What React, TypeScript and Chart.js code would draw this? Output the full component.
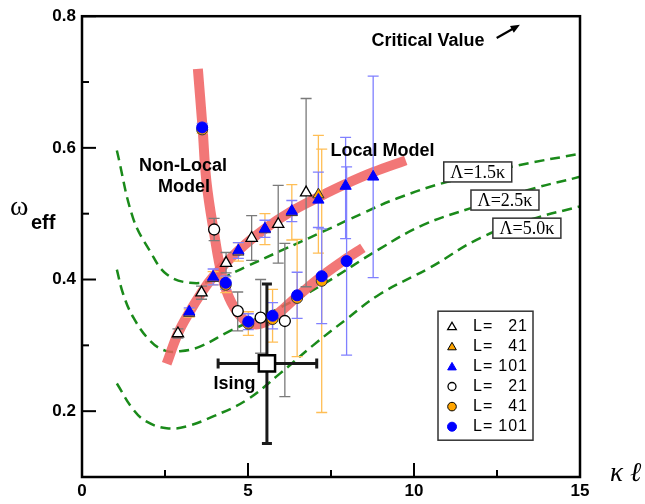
import { useEffect, useRef } from 'react';
import { Chart, registerables } from 'chart.js';

Chart.register(...registerables);

const SANS = '"Liberation Sans", Arial, Helvetica, sans-serif';
const SERIF = '"Liberation Serif", "DejaVu Serif", "Times New Roman", serif';

// ---------- Data: upper branch (triangles) ----------
const triX21 = [2.89, 3.6, 4.34, 5.11, 5.91, 6.75];
const triY21 = [0.318, 0.38, 0.425, 0.463, 0.484, 0.532];
const triLo21 = [0.311, 0.37, 0.41, 0.429, 0.425, 0.389];
const triHi21 = [0.325, 0.39, 0.441, 0.497, 0.543, 0.675];

const triX41 = [3.23, 3.95, 4.71, 5.51, 6.32, 7.12];
const triY41 = [0.349, 0.402, 0.442, 0.476, 0.502, 0.529];
const triLo41 = [0.343, 0.392, 0.428, 0.453, 0.46, 0.44];
const triHi41 = [0.355, 0.412, 0.456, 0.5, 0.544, 0.619];

const triX101 = [3.23, 3.95, 4.71, 5.51, 6.32, 7.12, 7.94, 8.77];
const triY101 = [0.351, 0.404, 0.444, 0.477, 0.504, 0.521, 0.542, 0.556];
const triLo101 = [0.345, 0.392, 0.432, 0.464, 0.488, 0.479, 0.462, 0.403];
const triHi101 = [0.357, 0.416, 0.456, 0.49, 0.52, 0.563, 0.616, 0.709];

// ---------- Data: lower branch (circles) ----------
const cirX21 = [3.98, 4.69, 5.38, 6.11];
const cirY21 = [0.476, 0.352, 0.342, 0.337];
const cirLo21 = [0.459, 0.322, 0.288, 0.222];
const cirHi21 = [0.493, 0.381, 0.4, 0.455];

const cirX41 = [3.62, 4.33, 5.01, 5.74, 6.48, 7.22];
const cirY41 = [0.628, 0.392, 0.333, 0.34, 0.372, 0.398];
const cirLo41 = [0.622, 0.38, 0.315, 0.305, 0.283, 0.198];
const cirHi41 = [0.634, 0.404, 0.351, 0.385, 0.461, 0.598];

const cirX101 = [3.62, 4.33, 5.01, 5.74, 6.48, 7.22, 7.97];
const cirY101 = [0.631, 0.395, 0.336, 0.345, 0.376, 0.405, 0.428];
const cirLo101 = [0.625, 0.385, 0.324, 0.325, 0.341, 0.333, 0.285];
const cirHi101 = [0.637, 0.405, 0.348, 0.365, 0.411, 0.477, 0.571];

// ---------- Ising point ----------
const isingX = [5.57];
const isingY = [0.2725];
const isingXLo = [4.1];
const isingXHi = [7.07];
const isingYLo = [0.151];
const isingYHi = [0.393];

// ---------- Model curves (thick red bands) ----------
const localX = [2.55, 2.89, 3.23, 3.6, 3.95, 4.71, 5.51, 6.32, 7.12, 7.94, 8.77, 9.75];
const localY = [0.272, 0.318, 0.35, 0.38, 0.404, 0.444, 0.477, 0.504, 0.525, 0.545, 0.563, 0.581];
const nonLocalX = [3.49, 3.63, 3.75, 3.98, 4.22, 4.5, 4.9, 5.3, 5.74, 6.48, 7.22, 7.97, 8.46];
const nonLocalY = [0.72, 0.631, 0.548, 0.47, 0.405, 0.365, 0.338, 0.332, 0.342, 0.374, 0.405, 0.432, 0.448];

// ---------- Lambda curves (green dashed) ----------
const lam15X = [1.05, 1.54, 2.05, 2.55, 3.25, 4.06, 4.96, 5.96, 7.27, 8.47, 9.48, 10.98, 13.19, 15.0];
const lam15Y = [0.596, 0.493, 0.443, 0.408, 0.395, 0.4, 0.42, 0.443, 0.473, 0.501, 0.523, 0.548, 0.574, 0.591];
const lam25X = [1.05, 1.24, 1.55, 2.05, 2.5, 2.95, 3.55, 4.46, 5.96, 7.27, 8.98, 10.28, 11.69, 13.58, 15.0];
const lam25Y = [0.415, 0.378, 0.342, 0.307, 0.292, 0.291, 0.298, 0.322, 0.357, 0.393, 0.447, 0.483, 0.508, 0.538, 0.556];
const lam50X = [1.05, 1.55, 1.95, 2.55, 3.15, 3.95, 4.96, 5.96, 6.96, 7.97, 8.98, 10.48, 11.99, 13.5, 15.0];
const lam50Y = [0.242, 0.202, 0.184, 0.174, 0.177, 0.192, 0.217, 0.257, 0.3, 0.34, 0.378, 0.418, 0.463, 0.491, 0.511];

// ---------- Labels ----------
const lambdaLabels = ['\u039B=1.5\u03BA', '\u039B=2.5\u03BA', '\u039B=5.0\u03BA'];
const lambdaLabelX = [11.92, 12.74, 13.4];
const lambdaLabelY = [0.5634, 0.5207, 0.478];
const legendLabels = ['21', '41', '101', '21', '41', '101'];

const pts = (xs: number[], ys: number[]) => xs.map((x, i) => ({ x, y: ys[i] }));

function drawTri(ctx: CanvasRenderingContext2D, x: number, y: number, r: number, fill: string, stroke: string, lw: number) {
  ctx.beginPath();
  for (let k = 0; k < 3; k++) {
    const a = (k * 2 * Math.PI) / 3;
    const px = x + Math.sin(a) * r;
    const py = y - Math.cos(a) * r;
    if (k === 0) ctx.moveTo(px, py);
    else ctx.lineTo(px, py);
  }
  ctx.closePath();
  ctx.fillStyle = fill;
  ctx.fill();
  ctx.lineWidth = lw;
  ctx.strokeStyle = stroke;
  ctx.stroke();
}

function drawCirc(ctx: CanvasRenderingContext2D, x: number, y: number, r: number, fill: string, stroke: string, lw: number) {
  ctx.beginPath();
  ctx.arc(x, y, r, 0, Math.PI * 2);
  ctx.fillStyle = fill;
  ctx.fill();
  ctx.lineWidth = lw;
  ctx.strokeStyle = stroke;
  ctx.stroke();
}

export default function App() {
  const ref = useRef<HTMLCanvasElement>(null);

  useEffect(() => {
    const canvas = ref.current;
    if (!canvas) return;

    const GRAY = '#7a7a7a';
    const ORANGE_BAR = '#ffbe55';
    const BLUE_BAR = '#8080ff';

    const errSets = [
      { xs: triX21, lo: triLo21, hi: triHi21, c: GRAY },
      { xs: cirX21, lo: cirLo21, hi: cirHi21, c: GRAY },
      { xs: triX41, lo: triLo41, hi: triHi41, c: ORANGE_BAR },
      { xs: cirX41, lo: cirLo41, hi: cirHi41, c: ORANGE_BAR },
      { xs: triX101, lo: triLo101, hi: triHi101, c: BLUE_BAR },
      { xs: cirX101, lo: cirLo101, hi: cirHi101, c: BLUE_BAR },
    ];

    const customPlugin = {
      id: 'custom',
      afterDatasetDraw(chart: any, args: any) {
        const ds = chart.data.datasets[args.index];
        if (!ds || ds.label !== 'Local model') return;
        const ctx = chart.ctx as CanvasRenderingContext2D;
        const xs = chart.scales.x;
        const ys = chart.scales.y;
        ctx.save();
        errSets.forEach((s) => {
          ctx.strokeStyle = s.c;
          ctx.lineWidth = 1.3;
          s.xs.forEach((xv, i) => {
            const px = xs.getPixelForValue(xv);
            const p1 = ys.getPixelForValue(s.lo[i]);
            const p2 = ys.getPixelForValue(s.hi[i]);
            ctx.beginPath();
            ctx.moveTo(px, p1);
            ctx.lineTo(px, p2);
            ctx.moveTo(px - 5.5, p1);
            ctx.lineTo(px + 5.5, p1);
            ctx.moveTo(px - 5.5, p2);
            ctx.lineTo(px + 5.5, p2);
            ctx.stroke();
          });
        });
        // Ising error bars
        ctx.strokeStyle = '#1a1a1a';
        ctx.lineWidth = 3;
        isingX.forEach((xv, i) => {
          const px = xs.getPixelForValue(xv);
          const py = ys.getPixelForValue(isingY[i]);
          const xl = xs.getPixelForValue(isingXLo[i]);
          const xh = xs.getPixelForValue(isingXHi[i]);
          const yl = ys.getPixelForValue(isingYLo[i]);
          const yh = ys.getPixelForValue(isingYHi[i]);
          ctx.beginPath();
          ctx.moveTo(xl, py);
          ctx.lineTo(xh, py);
          ctx.moveTo(xl, py - 5);
          ctx.lineTo(xl, py + 5);
          ctx.moveTo(xh, py - 5);
          ctx.lineTo(xh, py + 5);
          ctx.moveTo(px, yl);
          ctx.lineTo(px, yh);
          ctx.moveTo(px - 5, yl);
          ctx.lineTo(px + 5, yl);
          ctx.moveTo(px - 5, yh);
          ctx.lineTo(px + 5, yh);
          ctx.stroke();
        });
        ctx.restore();
      },
      afterDraw(chart: any) {
        const ctx = chart.ctx as CanvasRenderingContext2D;
        const xs = chart.scales.x;
        const ys = chart.scales.y;
        const a = chart.chartArea;
        ctx.save();

        // frame
        ctx.strokeStyle = '#000';
        ctx.lineWidth = 2.5;
        ctx.strokeRect(a.left, a.top, a.right - a.left, a.bottom - a.top);

        // inward ticks
        ctx.lineWidth = 2;
        xs.ticks.forEach((t: any) => {
          const px = xs.getPixelForValue(t.value);
          const major = Math.abs(t.value / 5 - Math.round(t.value / 5)) < 1e-6;
          const len = major ? 14 : 7;
          ctx.beginPath();
          ctx.moveTo(px, a.bottom);
          ctx.lineTo(px, a.bottom - len);
          ctx.stroke();
        });
        ys.ticks.forEach((t: any) => {
          const py = ys.getPixelForValue(t.value);
          const k = Math.round(t.value * 10);
          const len = k % 2 === 0 ? 14 : 7;
          ctx.beginPath();
          ctx.moveTo(a.left, py);
          ctx.lineTo(a.left + len, py);
          ctx.stroke();
        });

        // axis titles
        ctx.fillStyle = '#000';
        ctx.textAlign = 'left';
        ctx.textBaseline = 'alphabetic';
        ctx.font = `28px ${SERIF}`;
        ctx.fillText('\u03C9', a.left - 72, ys.getPixelForValue(0.5) + 1);
        ctx.font = `bold 20px ${SANS}`;
        ctx.fillText('eff', a.left - 51, ys.getPixelForValue(0.5) + 15);
        ctx.font = `italic 27px ${SERIF}`;
        ctx.fillText('\u03BA', a.right + 30, a.bottom + 4);
        ctx.fillText('\u2113', a.right + 50, a.bottom + 4);

        // annotations
        ctx.textAlign = 'center';
        ctx.textBaseline = 'middle';
        ctx.font = `bold 18px ${SANS}`;
        ctx.fillText('Critical Value', xs.getPixelForValue(10.42), ys.getPixelForValue(0.7616));
        ctx.fillText('Non-Local', xs.getPixelForValue(3.04), ys.getPixelForValue(0.573));
        ctx.fillText('Model', xs.getPixelForValue(3.07), ys.getPixelForValue(0.541));
        ctx.fillText('Local Model', xs.getPixelForValue(9.05), ys.getPixelForValue(0.595));
        ctx.fillText('Ising', xs.getPixelForValue(4.59), ys.getPixelForValue(0.241));

        // arrow
        const ax1 = xs.getPixelForValue(12.49);
        const ay1 = ys.getPixelForValue(0.767);
        const ax2 = xs.getPixelForValue(13.19);
        const ay2 = ys.getPixelForValue(0.787);
        const ang = Math.atan2(ay2 - ay1, ax2 - ax1);
        ctx.strokeStyle = '#000';
        ctx.lineWidth = 2.2;
        ctx.beginPath();
        ctx.moveTo(ax1, ay1);
        ctx.lineTo(ax2 - Math.cos(ang) * 6, ay2 - Math.sin(ang) * 6);
        ctx.stroke();
        ctx.beginPath();
        ctx.moveTo(ax2, ay2);
        ctx.lineTo(ax2 - Math.cos(ang - 0.4) * 10, ay2 - Math.sin(ang - 0.4) * 10);
        ctx.lineTo(ax2 - Math.cos(ang + 0.4) * 10, ay2 - Math.sin(ang + 0.4) * 10);
        ctx.closePath();
        ctx.fillStyle = '#000';
        ctx.fill();

        // lambda boxes
        ctx.font = `18px ${SERIF}`;
        lambdaLabels.forEach((lab, i) => {
          const cx = xs.getPixelForValue(lambdaLabelX[i]);
          const cy = ys.getPixelForValue(lambdaLabelY[i]);
          ctx.fillStyle = '#fff';
          ctx.fillRect(cx - 34, cy - 10, 68, 20);
          ctx.strokeStyle = '#333';
          ctx.lineWidth = 1.5;
          ctx.strokeRect(cx - 34, cy - 10, 68, 20);
          ctx.fillStyle = '#000';
          ctx.fillText(lab, cx, cy + 1);
        });

        // legend
        const lx = a.right - 142;
        const ly = a.top + 295;
        ctx.fillStyle = '#fff';
        ctx.fillRect(lx, ly, 95, 129);
        ctx.strokeStyle = '#333';
        ctx.lineWidth = 1.5;
        ctx.strokeRect(lx, ly, 95, 129);
        const syms = [
          (x: number, y: number) => drawTri(ctx, x, y + 1, 5, '#fff', '#000', 1.3),
          (x: number, y: number) => drawTri(ctx, x, y + 1, 5, '#ffa500', '#000', 1.0),
          (x: number, y: number) => drawTri(ctx, x, y + 1, 5, '#0000ff', '#0000ff', 1.0),
          (x: number, y: number) => drawCirc(ctx, x, y, 4, '#fff', '#000', 1.3),
          (x: number, y: number) => drawCirc(ctx, x, y, 4.3, '#ffa500', '#000', 1.0),
          (x: number, y: number) => drawCirc(ctx, x, y, 4.5, '#0000ff', '#0000ff', 1.0),
        ];
        legendLabels.forEach((lab, i) => {
          const yy = ly + 15 + i * 20.1;
          syms[i](lx + 14, yy);
          ctx.fillStyle = '#000';
          ctx.font = `16px ${SANS}`;
          ctx.textBaseline = 'middle';
          ctx.textAlign = 'left';
          ctx.fillText('L', lx + 35, yy);
          ctx.fillText('=', lx + 45, yy);
          ctx.textAlign = 'right';
          (ctx as any).letterSpacing = '1px';
          ctx.fillText(lab, lx + 90, yy);
          (ctx as any).letterSpacing = '0px';
        });

        ctx.restore();
      },
    };

    const chart = new Chart(canvas, {
      type: 'scatter',
      data: {
        datasets: [
          {
            label: 'Ising', data: pts(isingX, isingY), order: 0,
            pointStyle: 'rect', pointRadius: 11.5, pointBackgroundColor: '#fff',
            pointBorderColor: '#000', pointBorderWidth: 2.5, showLine: false,
          },
          {
            label: 'L=101 circles', data: pts(cirX101, cirY101), order: 1,
            pointStyle: 'circle', pointRadius: 5.5, pointBackgroundColor: '#0000ff',
            pointBorderColor: '#0000ff', pointBorderWidth: 1, showLine: false,
          },
          {
            label: 'L=41 circles', data: pts(cirX41, cirY41), order: 2,
            pointStyle: 'circle', pointRadius: 5.5, pointBackgroundColor: '#ffa500',
            pointBorderColor: '#333', pointBorderWidth: 1, showLine: false,
          },
          {
            label: 'L=21 circles', data: pts(cirX21, cirY21), order: 3,
            pointStyle: 'circle', pointRadius: 5.5, pointBackgroundColor: '#fff',
            pointBorderColor: '#000', pointBorderWidth: 1.3, showLine: false,
          },
          {
            label: 'L=101 triangles', data: pts(triX101, triY101), order: 4,
            pointStyle: 'triangle', pointRadius: 6.5, pointBackgroundColor: '#0000ff',
            pointBorderColor: '#0000ff', pointBorderWidth: 1, showLine: false,
          },
          {
            label: 'L=41 triangles', data: pts(triX41, triY41), order: 5,
            pointStyle: 'triangle', pointRadius: 6.5, pointBackgroundColor: '#ffa500',
            pointBorderColor: '#333', pointBorderWidth: 1, showLine: false,
          },
          {
            label: 'L=21 triangles', data: pts(triX21, triY21), order: 6,
            pointStyle: 'triangle', pointRadius: 6.5, pointBackgroundColor: '#fff',
            pointBorderColor: '#000', pointBorderWidth: 1.3, showLine: false,
          },
          {
            label: 'Local model', data: pts(localX, localY), order: 20,
            showLine: true, borderColor: 'rgba(240, 95, 95, 0.85)', borderWidth: 10,
            pointRadius: 0, tension: 0.4, borderCapStyle: 'butt',
          },
          {
            label: 'Non-local model', data: pts(nonLocalX, nonLocalY), order: 21,
            showLine: true, borderColor: 'rgba(240, 95, 95, 0.85)', borderWidth: 10,
            pointRadius: 0, tension: 0.4, borderCapStyle: 'butt',
          },
          {
            label: 'Lambda 1.5', data: pts(lam15X, lam15Y), order: 30,
            showLine: true, borderColor: '#1a8a1a', borderWidth: 2.5, borderDash: [10, 6],
            pointRadius: 0, tension: 0.4,
          },
          {
            label: 'Lambda 2.5', data: pts(lam25X, lam25Y), order: 31,
            showLine: true, borderColor: '#1a8a1a', borderWidth: 2.5, borderDash: [10, 6],
            pointRadius: 0, tension: 0.4,
          },
          {
            label: 'Lambda 5.0', data: pts(lam50X, lam50Y), order: 32,
            showLine: true, borderColor: '#1a8a1a', borderWidth: 2.5, borderDash: [10, 6],
            pointRadius: 0, tension: 0.4,
          },
        ],
      },
      options: {
        responsive: false,
        animation: false,
        devicePixelRatio: 1,
        layout: { padding: { left: 8, top: 13, right: 65, bottom: 0 } },
        plugins: { legend: { display: false }, tooltip: { enabled: false } },
        scales: {
          x: {
            type: 'linear', min: 0, max: 15,
            grid: { display: false, drawTicks: false },
            border: { display: false },
            ticks: {
              stepSize: 2.5, autoSkip: false, maxRotation: 0, padding: 4, color: '#000',
              font: { family: SANS, size: 17, weight: 'bold' },
              callback: (v: any) => (Math.abs(v / 5 - Math.round(v / 5)) < 1e-6 ? String(v) : ''),
            },
            afterFit: (s: any) => { s.height = 27; },
          },
          y: {
            type: 'linear', min: 0.1, max: 0.8,
            grid: { display: false, drawTicks: false },
            border: { display: false },
            ticks: {
              stepSize: 0.1, autoSkip: false, padding: 6, color: '#000',
              font: { family: SANS, size: 17, weight: 'bold' },
              callback: (v: any) => {
                const k = Math.round(v * 10);
                return k % 2 === 0 ? (k / 10).toFixed(1) : '';
              },
            },
            afterFit: (s: any) => { s.width = 74; },
          },
        },
      },
      plugins: [customPlugin],
    } as any);

    return () => chart.destroy();
  }, []);

  return (
    <div style={{ position: 'fixed', left: 0, top: 0, width: 645, height: 504, background: '#fff' }}>
      <canvas ref={ref} width={645} height={504} style={{ width: 645, height: 504 }} />
    </div>
  );
}
